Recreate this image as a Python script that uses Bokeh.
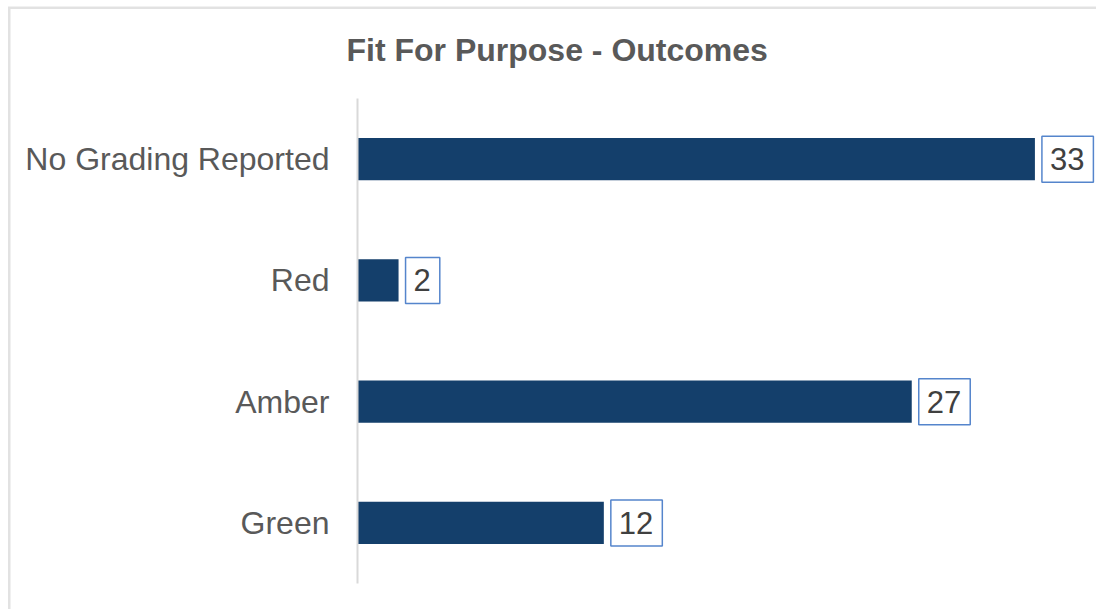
from bokeh.plotting import figure
from bokeh.models import ColumnDataSource, FactorRange, Range1d, Title
from bokeh.core.properties import value
from bokeh.embed import file_html
from bokeh.resources import INLINE

categories = ["Green", "Amber", "Red", "No Grading Reported"]
counts = [12, 27, 2, 33]
count_labels = [str(c) for c in counts]

FONT = "Liberation Sans"

source = ColumnDataSource(data=dict(cat=categories, val=counts, lab=count_labels))

p = figure(
    width=1096, height=609,
    y_range=FactorRange(factors=categories, range_padding=0),
    x_range=Range1d(0, 36.0),
    x_axis_location=None,
    output_backend="svg", toolbar_location=None,
    min_border_left=357, min_border_right=0, min_border_top=98, min_border_bottom=26,
    styles={"box-shadow": "inset 8px 6.5px 0 0 #ffffff, inset 10.5px 9px 0 0 #e2e2e2"},
)
p.outline_line_color = None
p.grid.grid_line_color = None
p.background_fill_color = "white"
p.border_fill_color = None

t = Title(text="Fit For Purpose - Outcomes", align="left", offset=-11, standoff=58,
          vertical_align="top",
          text_font=FONT, text_font_size="32px", text_font_style="bold", text_color="#595959")
p.title = t

p.hbar(y="cat", right="val", left=0, height=0.35, source=source,
       fill_color="#143f6b", line_color=None)

p.text(x="val", y="cat", text="lab", source=source, x_offset=7,
       text_align="left", text_baseline="middle",
       text_font=value(FONT), text_font_size="31px", text_color="#404040",
       background_fill_color="white", border_line_color="#5585cc", border_line_width=1.5,
       padding=dict(left=8, right=9, top=12, bottom=12))

yax = p.yaxis[0]
yax.axis_line_color = "#d9d9d9"
yax.axis_line_width = 2
yax.major_tick_line_color = None
yax.minor_tick_line_color = None
yax.major_label_standoff = 22
yax.major_label_text_font = FONT
yax.major_label_text_font_size = "32px"
yax.major_label_text_color = "#595959"

open("out.html", "w").write(file_html(p, INLINE))
